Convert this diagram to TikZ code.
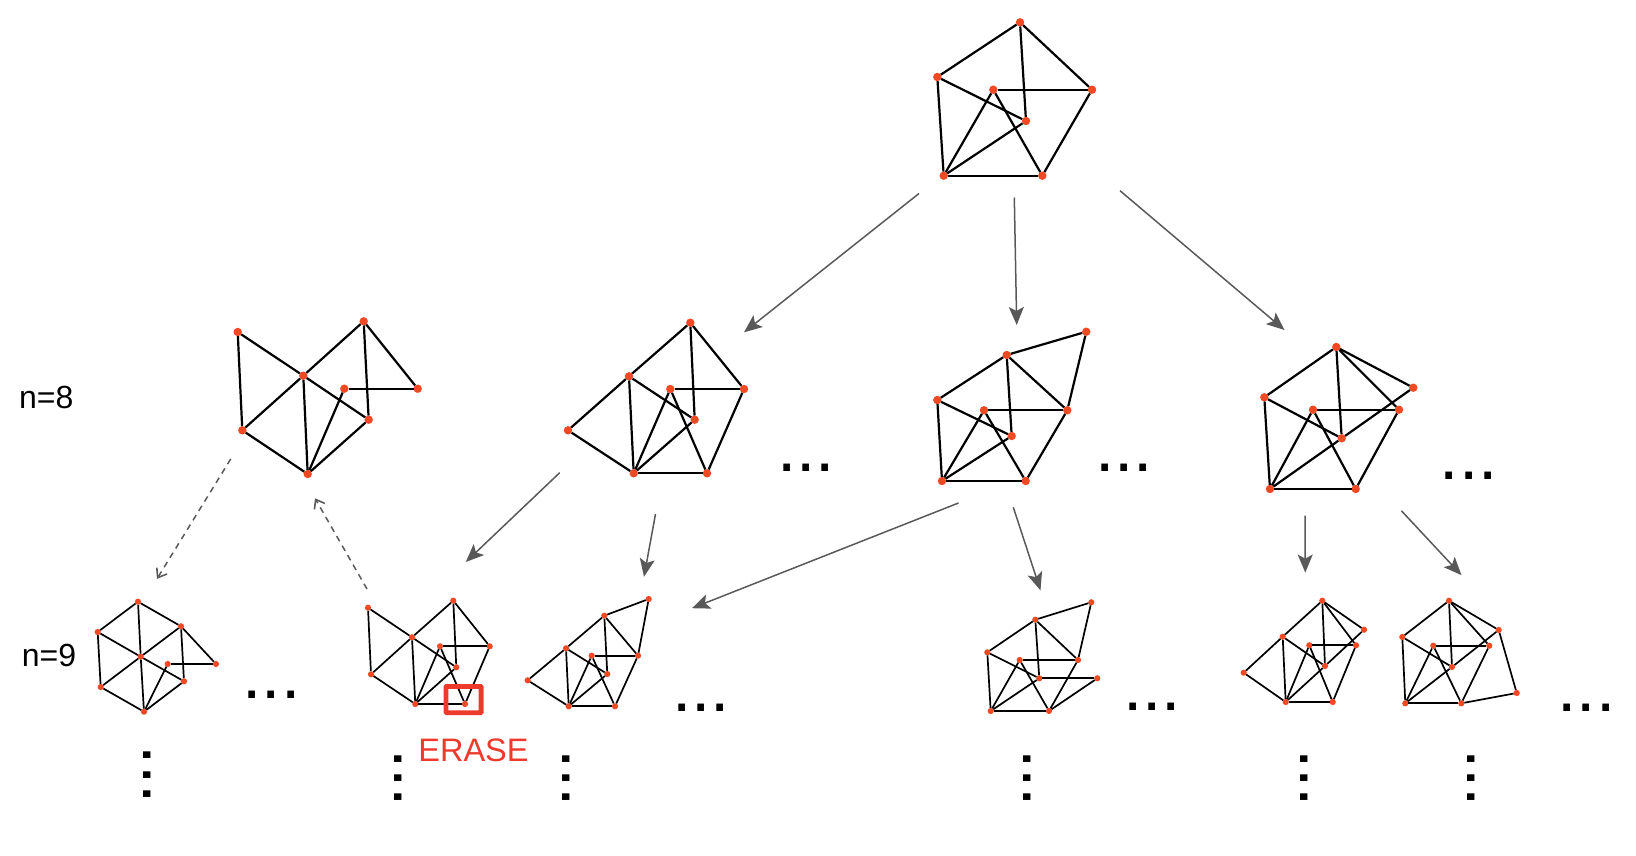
\documentclass[tikz,border=0pt]{standalone}
\usepackage{fontspec}
\setmainfont{Liberation Sans}
\usetikzlibrary{arrows.meta}
\definecolor{vred}{HTML}{F04A24}
\definecolor{ered}{HTML}{EE3A2C}
\definecolor{agray}{HTML}{595959}
\tikzset{
  big/.style={circle,fill=vred,inner sep=0pt,outer sep=0pt,minimum size=8.4pt},
  small/.style={circle,fill=vred,inner sep=0pt,outer sep=0pt,minimum size=6.2pt},
  eL/.style={draw=black,line width=2.2pt},
  eS/.style={draw=black,line width=1.7pt},
  arrowline/.style={draw=agray,line width=1.5pt,-{Stealth[length=18pt,width=15pt,inset=4pt]}},
  dashline/.style={draw=agray,line width=1.5pt,dash pattern=on 6pt off 5pt,-{Straight Barb[length=8pt,width=12pt,line width=1.6pt]}},
  ells/.style={anchor=base west,inner sep=0pt,outer sep=0pt,text=black,font=\fontsize{69.4}{70}\selectfont},
  vells/.style={ells,rotate=-90},
  lab/.style={anchor=base west,inner sep=0pt,text=black,font=\fontsize{32}{36}\selectfont},
}
\begin{document}
\begin{tikzpicture}[x=1pt,y=-1pt]
\useasboundingbox (0,0) rectangle (1636,856);
% ---- top graph
\node[big] (aT) at (1020,22.3) {};
\node[big] (aB) at (937.3,77) {};
\node[big] (aC) at (993.3,89.7) {};
\node[big] (aD) at (1092,89.7) {};
\node[big] (aE) at (1026,121) {};
\node[big] (aF) at (943.7,175.7) {};
\node[big] (aG) at (1042.3,175.7) {};
\draw[eL] (aT)--(aB); \draw[eL] (aT)--(aE); \draw[eL] (aT)--(aD);
\draw[eL] (aB)--(aE); \draw[eL] (aB)--(aF); \draw[eL] (aC)--(aD);
\draw[eL] (aC)--(aF); \draw[eL] (aC)--(aG); \draw[eL] (aD)--(aG);
\draw[eL] (aE)--(aF); \draw[eL] (aF)--(aG);
% ---- n=8 left graph
\node[big] (ba) at (237.7,332) {};
\node[big] (bb) at (363.7,321.3) {};
\node[big] (bc) at (303.3,375.7) {};
\node[big] (bd) at (344.3,388.7) {};
\node[big] (be) at (417.7,388.7) {};
\node[big] (bf) at (368.7,419.7) {};
\node[big] (bg) at (242.3,430.3) {};
\node[big] (bh) at (307.7,474) {};
\draw[eL] (ba)--(bc); \draw[eL] (ba)--(bg); \draw[eL] (bb)--(bc);
\draw[eL] (bb)--(bf); \draw[eL] (bb)--(be); \draw[eL] (bc)--(bf);
\draw[eL] (bc)--(bg); \draw[eL] (bc)--(bh); \draw[eL] (bd)--(be);
\draw[eL] (bd)--(bh); \draw[eL] (bf)--(bh); \draw[eL] (bg)--(bh);
% ---- n=8 graph 2
\node[big] (cT) at (690.3,322.7) {};
\node[big] (cB) at (629,376.3) {};
\node[big] (cC) at (670.3,389) {};
\node[big] (cD) at (744,389) {};
\node[big] (cE) at (694.7,419.7) {};
\node[big] (cL) at (568,430.3) {};
\node[big] (cF) at (633.7,473.3) {};
\node[big] (cG) at (707,473.3) {};
\draw[eL] (cT)--(cB); \draw[eL] (cT)--(cE); \draw[eL] (cT)--(cD);
\draw[eL] (cB)--(cE); \draw[eL] (cB)--(cL); \draw[eL] (cB)--(cF);
\draw[eL] (cC)--(cD); \draw[eL] (cC)--(cF); \draw[eL] (cC)--(cG);
\draw[eL] (cD)--(cG); \draw[eL] (cE)--(cF); \draw[eL] (cF)--(cL);
\draw[eL] (cF)--(cG);
% ---- n=8 graph 3
\node[big] (dX) at (1086.3,331.7) {};
\node[big] (dT) at (1006.7,355) {};
\node[big] (dB) at (937.3,400) {};
\node[big] (dC) at (984,410.3) {};
\node[big] (dD) at (1067.3,410.3) {};
\node[big] (dE) at (1011.7,436) {};
\node[big] (dF) at (942,481) {};
\node[big] (dG) at (1025.7,481) {};
\draw[eL] (dX)--(dT); \draw[eL] (dX)--(dD); \draw[eL] (dT)--(dB);
\draw[eL] (dT)--(dE); \draw[eL] (dT)--(dD); \draw[eL] (dB)--(dE);
\draw[eL] (dB)--(dF); \draw[eL] (dC)--(dD); \draw[eL] (dC)--(dF);
\draw[eL] (dC)--(dG); \draw[eL] (dD)--(dG); \draw[eL] (dE)--(dF);
\draw[eL] (dF)--(dG);
% ---- n=8 graph 4
\node[big] (eT) at (1336.3,347) {};
\node[big] (eX) at (1413.3,387.7) {};
\node[big] (eB) at (1264.3,397.3) {};
\node[big] (eC) at (1313,409.7) {};
\node[big] (eD) at (1399,409.7) {};
\node[big] (eE) at (1341.7,438.3) {};
\node[big] (eF) at (1270,489) {};
\node[big] (eG) at (1355.7,489) {};
\draw[eL] (eT)--(eX); \draw[eL] (eT)--(eD); \draw[eL] (eT)--(eE);
\draw[eL] (eT)--(eB); \draw[eL] (eX)--(eE); \draw[eL] (eB)--(eE);
\draw[eL] (eB)--(eF); \draw[eL] (eC)--(eD); \draw[eL] (eC)--(eF);
\draw[eL] (eC)--(eG); \draw[eL] (eD)--(eG); \draw[eL] (eE)--(eF);
\draw[eL] (eF)--(eG);
% ---- n=9 graph 1
\node[small] (fa) at (138,601.7) {};
\node[small] (fb) at (181,626.3) {};
\node[small] (fc) at (97.7,632) {};
\node[small] (fd) at (140.7,656.7) {};
\node[small] (fe) at (167.7,664) {};
\node[small] (ff) at (216,664) {};
\node[small] (fg) at (184,681.3) {};
\node[small] (fh) at (100.7,687) {};
\node[small] (fi) at (144,711.7) {};
\draw[eS] (fa)--(fc); \draw[eS] (fa)--(fb); \draw[eS] (fa)--(fd);
\draw[eS] (fd)--(fi); \draw[eS] (fb)--(fd); \draw[eS] (fb)--(ff);
\draw[eS] (fb)--(fg); \draw[eS] (fc)--(fd); \draw[eS] (fd)--(fg);
\draw[eS] (fd)--(fh); \draw[eS] (fc)--(fh); \draw[eS] (fe)--(ff);
\draw[eS] (fe)--(fi); \draw[eS] (fg)--(fi); \draw[eS] (fh)--(fi);
% ---- n=9 graph 2 (erase)
\node[small] (ga) at (368,607.7) {};
\node[small] (gT) at (453.3,600.7) {};
\node[small] (gc) at (412,637.3) {};
\node[small] (gC) at (440,646.3) {};
\node[small] (gD) at (489.7,646.3) {};
\node[small] (gE) at (456.3,667.3) {};
\node[small] (gg) at (371,674.3) {};
\node[small] (gF) at (415.3,704) {};
\node[small] (gG) at (465,704) {};
\draw[eS] (ga)--(gc); \draw[eS] (ga)--(gg); \draw[eS] (gT)--(gc);
\draw[eS] (gT)--(gE); \draw[eS] (gT)--(gD); \draw[eS] (gc)--(gE);
\draw[eS] (gc)--(gg); \draw[eS] (gc)--(gF); \draw[eS] (gC)--(gD);
\draw[eS] (gC)--(gF); \draw[eS] (gC)--(gG); \draw[eS] (gD)--(gG);
\draw[eS] (gE)--(gF); \draw[eS] (gg)--(gF); \draw[eS] (gF)--(gG);
\node[draw=ered,line width=4.8pt,rounded corners=0.8pt,inner sep=0pt,outer sep=0pt,minimum width=35.2pt,minimum height=26.4pt] (eraserect) at (463.5,699.6) {};
\node[anchor=base,inner sep=0pt,text=ered,font=\fontsize{32.5}{36}\selectfont] (eraselabel) at (473.5,761) {ERASE};
% ---- n=9 graph 3
\node[small] (hX) at (648.7,599) {};
\node[small] (hT) at (604.3,615.7) {};
\node[small] (hB) at (566,648.3) {};
\node[small] (hC) at (591.7,655.7) {};
\node[small] (hD) at (638,655.7) {};
\node[small] (hE) at (607.3,674) {};
\node[small] (hL) at (527.7,680.3) {};
\node[small] (hF) at (568.7,706.3) {};
\node[small] (hG) at (615,706.3) {};
\draw[eS] (hX)--(hT); \draw[eS] (hX)--(hD); \draw[eS] (hT)--(hB);
\draw[eS] (hT)--(hE); \draw[eS] (hT)--(hD); \draw[eS] (hB)--(hE);
\draw[eS] (hB)--(hL); \draw[eS] (hB)--(hF); \draw[eS] (hC)--(hD);
\draw[eS] (hC)--(hF); \draw[eS] (hC)--(hG); \draw[eS] (hD)--(hG);
\draw[eS] (hE)--(hF); \draw[eS] (hL)--(hF); \draw[eS] (hF)--(hG);
% ---- n=9 graph 4
\node[small] (iX) at (1091.3,602.3) {};
\node[small] (iT) at (1035.3,619.7) {};
\node[small] (iB) at (987.3,652.3) {};
\node[small] (iC) at (1019.7,660) {};
\node[small] (iD) at (1078,660) {};
\node[small] (iE) at (1039.3,678.3) {};
\node[small] (iY) at (1097.3,678.3) {};
\node[small] (iF) at (990.7,711) {};
\node[small] (iG) at (1049,711) {};
\draw[eS] (iX)--(iT); \draw[eS] (iX)--(iD); \draw[eS] (iT)--(iB);
\draw[eS] (iT)--(iE); \draw[eS] (iT)--(iD); \draw[eS] (iB)--(iE);
\draw[eS] (iB)--(iF); \draw[eS] (iC)--(iD); \draw[eS] (iC)--(iF);
\draw[eS] (iC)--(iG); \draw[eS] (iD)--(iG); \draw[eS] (iE)--(iF);
\draw[eS] (iE)--(iY); \draw[eS] (iY)--(iG); \draw[eS] (iF)--(iG);
% ---- n=9 graph 5
\node[small] (jT) at (1322.3,600.7) {};
\node[small] (jX) at (1364,629.7) {};
\node[small] (jB) at (1282.7,636.7) {};
\node[small] (jC) at (1309.3,645.3) {};
\node[small] (jD) at (1356,645.3) {};
\node[small] (jE) at (1325,666) {};
\node[small] (jL) at (1243.7,672.7) {};
\node[small] (jF) at (1285.7,702) {};
\node[small] (jG) at (1332.7,702) {};
\draw[eS] (jT)--(jX); \draw[eS] (jT)--(jD); \draw[eS] (jT)--(jE);
\draw[eS] (jT)--(jB); \draw[eS] (jX)--(jE); \draw[eS] (jE)--(jF);
\draw[eS] (jB)--(jE); \draw[eS] (jB)--(jL); \draw[eS] (jB)--(jF);
\draw[eS] (jL)--(jF); \draw[eS] (jC)--(jD); \draw[eS] (jC)--(jF);
\draw[eS] (jC)--(jG); \draw[eS] (jD)--(jG); \draw[eS] (jF)--(jG);
% ---- n=9 graph 6
\node[small] (kT) at (1449,600.7) {};
\node[small] (kX) at (1498.7,630) {};
\node[small] (kB) at (1402.3,637) {};
\node[small] (kC) at (1433.3,645.7) {};
\node[small] (kD) at (1489.3,645.7) {};
\node[small] (kE) at (1452,667) {};
\node[small] (kY) at (1516.7,693) {};
\node[small] (kF) at (1405.3,703.3) {};
\node[small] (kG) at (1461.3,703.3) {};
\draw[eS] (kT)--(kX); \draw[eS] (kT)--(kD); \draw[eS] (kT)--(kE);
\draw[eS] (kT)--(kB); \draw[eS] (kX)--(kE); \draw[eS] (kE)--(kF);
\draw[eS] (kB)--(kE); \draw[eS] (kB)--(kF); \draw[eS] (kC)--(kD);
\draw[eS] (kC)--(kF); \draw[eS] (kC)--(kG); \draw[eS] (kD)--(kG);
\draw[eS] (kF)--(kG); \draw[eS] (kX)--(kY); \draw[eS] (kY)--(kG);
% ---- free ends of arrows
\coordinate (s1) at (919,193.5);   \coordinate (t1) at (744,332.3);
\coordinate (s2) at (1014.3,197.5);\coordinate (t2) at (1016.7,325);
\coordinate (s3) at (1120,190.7);  \coordinate (t3) at (1284.5,330);
\coordinate (s4) at (559.7,472.7); \coordinate (t4) at (465.8,562);
\coordinate (s5) at (655.5,514);   \coordinate (t5) at (644,576.8);
\coordinate (s6) at (958.5,503);   \coordinate (t6) at (692,608.2);
\coordinate (s7) at (1013.3,507.3);\coordinate (t7) at (1040.5,590.4);
\coordinate (s8) at (1305,515.7);  \coordinate (t8) at (1305.3,572.6);
\coordinate (s9) at (1401.3,510.7);\coordinate (t9) at (1461.5,575.2);
\coordinate (s10) at (230.7,459);  \coordinate (t10) at (157,578.8);
\coordinate (s11) at (367,589);    \coordinate (t11) at (315,498.3);
\draw[arrowline] (s1)--(t1);
\draw[arrowline] (s2)--(t2);
\draw[arrowline] (s3)--(t3);
\draw[arrowline] (s4)--(t4);
\draw[arrowline] (s5)--(t5);
\draw[arrowline] (s6)--(t6);
\draw[arrowline] (s7)--(t7);
\draw[arrowline] (s8)--(t8);
\draw[arrowline] (s9)--(t9);
\draw[dashline] (s10)--(t10);
\draw[dashline] (s11)--(t11);
% ---- labels
\node[lab] (n8) at (19,408.7) {n=8};
\node[lab] (n9) at (21.7,666.7) {n=9};
% ---- horizontal ellipses
\node[ells] (h1) at (777,471.1) {...};
\node[ells] (h2) at (1095.4,471.1) {...};
\node[ells] (h3) at (1439.7,479.1) {...};
\node[ells] (h4) at (242.7,698.1) {...};
\node[ells] (h5) at (672.1,711.7) {...};
\node[ells] (h6) at (1123.3,710.8) {...};
\node[ells] (h7) at (1557.6,711.7) {...};
% ---- vertical ellipses
\node[vells] (v1) at (143.9,745.8) {...};
\node[vells] (v2) at (394.7,749) {...};
\node[vells] (v3) at (562.1,749) {...};
\node[vells] (v4) at (1023.8,749) {...};
\node[vells] (v5) at (1300,749) {...};
\node[vells] (v6) at (1467.5,749) {...};
\end{tikzpicture}
\end{document}
